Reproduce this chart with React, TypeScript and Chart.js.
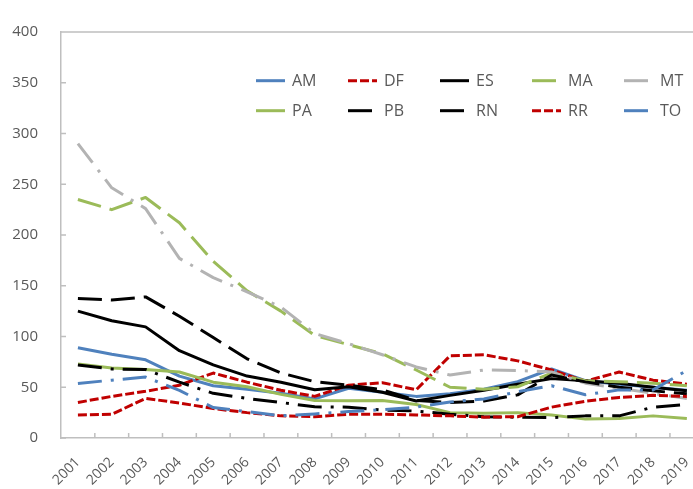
import React, { useEffect, useRef } from "react";
import { Chart, registerables } from "chart.js";

Chart.register(...registerables);

const years = ["2001","2002","2003","2004","2005","2006","2007","2008","2009","2010","2011","2012","2013","2014","2015","2016","2017","2018","2019"];

const AM = [89, 82.5, 77, 61, 51.5, 48, 44, 38.5, 49, 45, 41, 43.5, 48, 55.5, 68, 56.5, 53, 50, 47];
const DF = [35, 41, 46, 52, 64, 55, 47, 41, 52, 54.5, 47.5, 81, 82, 76, 67, 56, 65, 57, 53];
const ES = [125, 115.5, 109.5, 86, 72, 61, 55, 47.5, 50.5, 45, 36.5, 42, 47, 53, 58.5, 56.5, 54, 50, 46.5];
const MA = [235, 225, 237, 212, 174, 145, 125, 101, 92, 83, 67, 50, 48, 50.5, 64, 56.5, 55.5, 54, 51.5];
const MT = [290, 246.5, 226, 177, 158, 144, 129, 103, 93, 82, 70, 62, 67, 66.5, 65, 54, 49, 44, 39];
const PA = [73, 69, 67.5, 65, 55, 50.5, 43, 37, 36.8, 37, 33, 25, 24.5, 25, 22.7, 18.6, 19.2, 21.8, 19.2];
const PB = [137.5, 136, 139, 120, 99, 78, 64, 55.5, 52, 47.5, 37, 35, 36.5, 42.5, 62, 55.3, 50, 46.5, 43.5];
const RN = [72, 68, 67.5, 55, 44, 39, 35, 30.7, 30.4, 27.5, 26.6, 23.4, 21, 20.5, 20, 21.8, 21.8, 30.4, 33];
const RR = [22.7, 23.4, 39, 34.5, 29, 25, 21.8, 21, 23.4, 23.4, 22.7, 21.8, 20.5, 21, 30.4, 36.2, 40, 42, 41];
const TO = [53.7, 57, 60, 47, 30, 26, 22, 23.7, 26, 27.8, 30.4, 35.5, 38.5, 45.5, 51.5, 42.6, 47.4, 47.4, 66.5];

const seriesNames = ["AM", "DF", "ES", "MA", "MT", "PA", "PB", "RN", "RR", "TO"];
const seriesValues = [AM, DF, ES, MA, MT, PA, PB, RN, RR, TO];

const yMin = 0;
const yMax = 400;
const yStep = 50;

// styles
const BLUE = "#4f81bd";
const RED = "#c00000";
const BLACK = "#000000";
const GREEN = "#9bbb59";
const GREY = "#b3b3b3";
const SOLID: number[] = [];
const SYS_DASH = [9, 3];
const LG_DASH = [24, 9];
const LG_DASH_DOT = [24, 9, 3, 9];
const seriesStyle: Record<string, { color: string; dash: number[] }> = {
  AM: { color: BLUE, dash: SOLID },
  DF: { color: RED, dash: SYS_DASH },
  ES: { color: BLACK, dash: SOLID },
  MA: { color: GREEN, dash: LG_DASH },
  MT: { color: GREY, dash: LG_DASH_DOT },
  PA: { color: GREEN, dash: SOLID },
  PB: { color: BLACK, dash: LG_DASH },
  RN: { color: BLACK, dash: LG_DASH_DOT },
  RR: { color: RED, dash: SYS_DASH },
  TO: { color: BLUE, dash: LG_DASH_DOT },
};

const AXIS_COLOR = "#bfbfbf";
const TEXT_COLOR = "#595959";
const FONT = "'Open Sans', 'Noto Sans', sans-serif";

const decorPlugin = {
  id: "decor",
  afterDraw(chart: any) {
    const { ctx, chartArea: a, scales } = chart;
    const x = scales.x;
    const y = scales.y;
    ctx.save();
    ctx.strokeStyle = AXIS_COLOR;
    ctx.lineWidth = 1.5;
    ctx.setLineDash([]);
    ctx.beginPath();
    ctx.moveTo(a.left, a.top);
    ctx.lineTo(a.right, a.top);
    ctx.moveTo(a.right, a.top);
    ctx.lineTo(a.right, a.bottom);
    // inside ticks on y
    y.ticks.forEach((t: any) => {
      const py = y.getPixelForValue(t.value);
      ctx.moveTo(a.left, py);
      ctx.lineTo(a.left + 5, py);
    });
    // inside ticks on x at category boundaries
    for (let i = 1; i < years.length; i++) {
      const px = (x.getPixelForValue(i - 1) + x.getPixelForValue(i)) / 2;
      ctx.moveTo(px, a.bottom);
      ctx.lineTo(px, a.bottom - 5);
    }
    ctx.stroke();

    // legend: 2 rows x 5 columns
    const colStart = 256;
    const colStep = 92;
    const rowY = [80.7, 110.7];
    const sampleLen = 29;
    ctx.font = "16px " + FONT;
    ctx.textBaseline = "middle";
    ctx.textAlign = "left";
    seriesNames.forEach((name, i) => {
      const col = i % 5;
      const row = Math.floor(i / 5);
      const sx = colStart + col * colStep;
      const sy = rowY[row];
      const st = seriesStyle[name];
      ctx.strokeStyle = st.color;
      ctx.lineWidth = 3;
      ctx.lineCap = "butt";
      ctx.setLineDash(st.dash);
      ctx.beginPath();
      ctx.moveTo(sx, sy);
      ctx.lineTo(sx + sampleLen, sy);
      ctx.stroke();
      ctx.setLineDash([]);
      ctx.fillStyle = TEXT_COLOR;
      ctx.fillText(name, sx + 36, sy + 1);
    });
    ctx.restore();
  },
};

export default function App() {
  const ref = useRef<HTMLCanvasElement | null>(null);

  useEffect(() => {
    if (!ref.current) return;
    const n = seriesNames.length;
    const chart = new Chart(ref.current, {
      type: "line",
      data: {
        labels: years,
        datasets: seriesNames.map((name, i) => ({
          label: name,
          data: seriesValues[i],
          borderColor: seriesStyle[name].color,
          backgroundColor: seriesStyle[name].color,
          borderDash: seriesStyle[name].dash,
          borderWidth: 3,
          borderCapStyle: "butt",
          borderJoinStyle: "round",
          pointRadius: 0,
          pointHoverRadius: 0,
          tension: 0,
          fill: false,
          order: n - i,
        })),
      },
      options: {
        responsive: false,
        animation: false,
        layout: { padding: { left: 0, right: 10, top: 21, bottom: 0 } },
        plugins: {
          legend: { display: false },
          tooltip: { enabled: false },
        },
        scales: {
          x: {
            type: "category",
            offset: true,
            grid: { display: true, drawOnChartArea: false, drawTicks: false },
            border: { display: true, color: AXIS_COLOR, width: 1.5 },
            ticks: {
              autoSkip: false,
              maxRotation: 45,
              minRotation: 45,
              padding: 16,
              color: TEXT_COLOR,
              font: { family: FONT, size: 14 },
            },
            afterFit: (scale: any) => {
              scale.height = 51;
            },
          },
          y: {
            min: yMin,
            max: yMax,
            grid: { display: true, drawOnChartArea: false, drawTicks: false },
            border: { display: true, color: AXIS_COLOR, width: 1.5 },
            ticks: {
              stepSize: yStep,
              padding: 23,
              color: TEXT_COLOR,
              font: { family: FONT, size: 15 },
            },
            afterFit: (scale: any) => {
              scale.width = 61;
            },
          },
        },
      },
      plugins: [decorPlugin],
    });
    return () => chart.destroy();
  }, []);

  return (
    <div style={{ position: "fixed", left: 0, top: 0, width: 693, height: 489, overflow: "hidden", background: "#fff" }}>
      <canvas ref={ref} width={715} height={489} style={{ position: "absolute", left: 0, top: 0, display: "block" }} />
    </div>
  );
}
